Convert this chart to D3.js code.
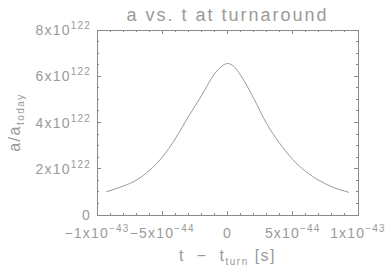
<!DOCTYPE html>
<html>
<head>
<meta charset="utf-8">
<script src="https://cdn.jsdelivr.net/npm/d3@7"></script>
<style>
  body { margin: 0; background: #fff; }
  text { font-family: "Liberation Sans", "DejaVu Sans", sans-serif; fill: #9a9a9a; }
</style>
</head>
<body>
<div id="chart"></div>
<script>
/* a vs. t at turnaround — IDL-style plot */
const tValues = [-0.93e-43, -0.8e-43, -0.7e-43, -0.6e-43, -0.5e-43, -0.4e-43, -0.3e-43, -0.2e-43, -0.1e-43, -0.05e-43, 0,
                 0.05e-43, 0.1e-43, 0.2e-43, 0.3e-43, 0.4e-43, 0.5e-43, 0.6e-43, 0.7e-43, 0.8e-43, 0.93e-43];
const aValues = [1.0e122, 1.25e122, 1.5e122, 1.92e122, 2.5e122, 3.3e122, 4.25e122, 5.15e122, 6.1e122, 6.4e122, 6.55e122,
                 6.42e122, 6.05e122, 5.05e122, 3.95e122, 3.1e122, 2.4e122, 1.88e122, 1.5e122, 1.22e122, 0.98e122];
const xTicks = [-1e-43, -5e-44, 0, 5e-44, 1e-43];
const xTickLabels = [["−1x10", "−43"], ["−5x10", "−44"], ["0", ""], ["5x10", "−44"], ["1x10", "−43"]];
const yTicks = [0, 2e122, 4e122, 6e122, 8e122];
const yTickLabels = [["0", ""], ["2x10", "122"], ["4x10", "122"], ["6x10", "122"], ["8x10", "122"]];

const W = 388, H = 277;
const m = {left: 97, right: 30, top: 30, bottom: 62};
const col = '#8a8a8a';

const svg = d3.select('#chart').append('svg').attr('width', W).attr('height', H);

const x = d3.scaleLinear().domain([-1e-43, 1e-43]).range([m.left, W - m.right]);
const y = d3.scaleLinear().domain([0, 8e122]).range([H - m.bottom, m.top]);

/* --- box + ticks (inward, all four sides) --- */
svg.append('rect').attr('x', x(-1e-43)).attr('y', y(8e122))
  .attr('width', x(1e-43) - x(-1e-43)).attr('height', y(0) - y(8e122))
  .attr('fill', 'none').attr('stroke', col).attr('stroke-width', 1).attr('shape-rendering', 'crispEdges');

const xMinor = d3.range(-10, 11).map(i => i * 1e-44);
const yMinor = d3.range(0, 17).map(i => i * 0.5e122);
const tk = svg.append('g').attr('stroke', col).attr('shape-rendering', 'crispEdges');
xMinor.forEach(v => {
  const len = Math.abs(Math.round(v / 1e-44)) % 5 === 0 ? 4 : 2;
  tk.append('line').attr('x1', x(v)).attr('x2', x(v)).attr('y1', y(0)).attr('y2', y(0) - len);
  tk.append('line').attr('x1', x(v)).attr('x2', x(v)).attr('y1', y(8e122)).attr('y2', y(8e122) + len);
});
yMinor.forEach(v => {
  const len = Math.round(v / 0.5e122) % 4 === 0 ? 4 : 2;
  tk.append('line').attr('y1', y(v)).attr('y2', y(v)).attr('x1', x(-1e-43)).attr('x2', x(-1e-43) + len);
  tk.append('line').attr('y1', y(v)).attr('y2', y(v)).attr('x1', x(1e-43)).attr('x2', x(1e-43) - len);
});

/* --- tick labels with superscripts --- */
function sciLabel(g, parts) {
  g.append('tspan').text(parts[0]);
  if (parts[1]) g.append('tspan').attr('dy', -6).style('font-size', '10px').text(parts[1]);
}
xTicks.forEach((v, i) => {
  const t = svg.append('text').attr('x', x(v)).attr('y', y(0) + 23)
    .attr('text-anchor', 'middle').style('font-size', '14px').style('letter-spacing', '1.2px');
  sciLabel(t, xTickLabels[i]);
});
yTicks.forEach((v, i) => {
  const t = svg.append('text').attr('x', x(-1e-43) - 6).attr('y', y(v) + 5)
    .attr('text-anchor', 'end').style('font-size', '14px').style('letter-spacing', '1.2px');
  sciLabel(t, yTickLabels[i]);
});

/* --- titles --- */
svg.append('text').attr('x', (x(-1e-43) + x(1e-43)) / 2).attr('y', 21)
  .attr('text-anchor', 'middle').style('font-size', '18px').style('letter-spacing', '2px')
  .text('a vs. t at turnaround');

const xt = svg.append('text').attr('x', (x(-1e-43) + x(1e-43)) / 2).attr('y', 261)
  .attr('text-anchor', 'middle').style('font-size', '16px').style('letter-spacing', '1.5px')
  .attr('xml:space', 'preserve');
xt.append('tspan').text('t  −  t');
xt.append('tspan').attr('dy', 4).style('font-size', '10px').text('turn');
xt.append('tspan').attr('dy', -4).text(' [s]');

const yt = svg.append('text').attr('transform', `translate(20,${(y(0) + y(8e122)) / 2}) rotate(-90)`)
  .attr('text-anchor', 'middle').style('font-size', '16px').style('letter-spacing', '1.5px');
yt.append('tspan').text('a/a');
yt.append('tspan').attr('dy', 4).style('font-size', '10px').text('today');

/* --- curve --- */
const line = d3.line().x((d, i) => x(tValues[i])).y(d => y(d)).curve(d3.curveMonotoneX);
svg.append('path').datum(aValues).attr('d', line)
  .attr('fill', 'none').attr('stroke', '#999').attr('stroke-width', 1);
</script>
</body>
</html>
